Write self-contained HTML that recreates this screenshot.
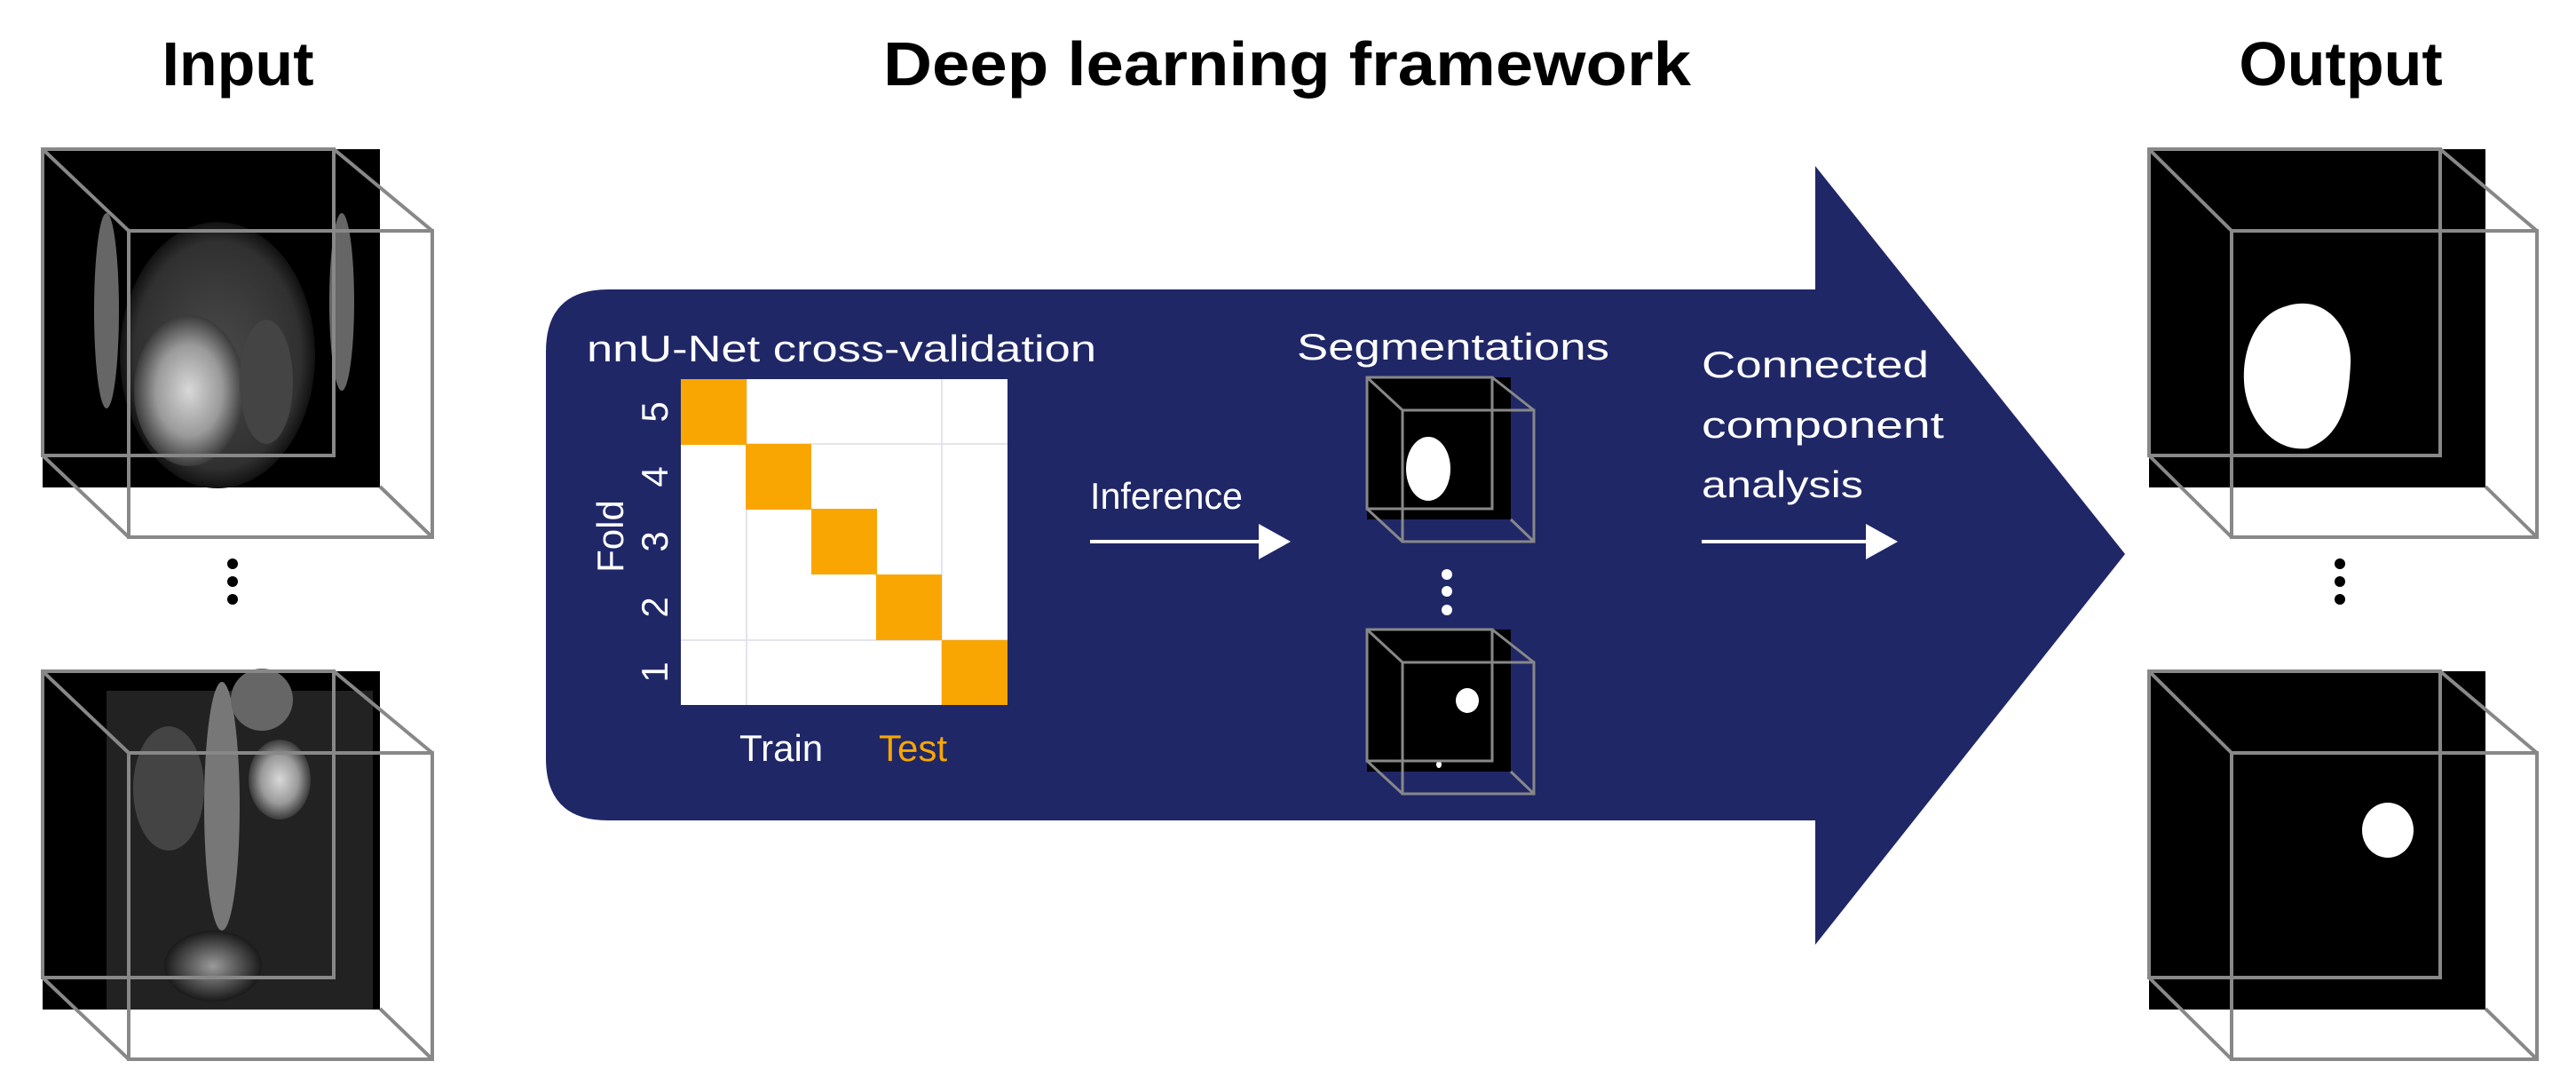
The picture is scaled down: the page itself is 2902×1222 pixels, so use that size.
<!DOCTYPE html>
<html><head><meta charset="utf-8"><style>html,body{margin:0;padding:0;background:#fff}svg{display:block}</style></head>
<body>
<svg width="2902" height="1222" viewBox="0 0 2902 1222" xmlns="http://www.w3.org/2000/svg" font-family="Liberation Sans, sans-serif">
<defs>
<radialGradient id="g1" cx="50%" cy="50%" r="50%"><stop offset="0" stop-color="#d8d8d8"/><stop offset="0.6" stop-color="#9a9a9a"/><stop offset="1" stop-color="#3a3a3a"/></radialGradient>
<radialGradient id="g2" cx="50%" cy="50%" r="50%"><stop offset="0" stop-color="#9a9a9a"/><stop offset="1" stop-color="#1a1a1a"/></radialGradient>
<radialGradient id="g3" cx="50%" cy="50%" r="50%"><stop offset="0" stop-color="#4a4a4a"/><stop offset="0.85" stop-color="#303030"/><stop offset="1" stop-color="#111"/></radialGradient>
</defs>
<text x="268" y="96" font-size="70" font-weight="bold" text-anchor="middle">Input</text>
<text x="1450" y="96" font-size="70" font-weight="bold" text-anchor="middle" textLength="910" lengthAdjust="spacingAndGlyphs">Deep learning framework</text>
<text x="2637" y="96" font-size="70" font-weight="bold" text-anchor="middle">Output</text>

<path d="M685,326 H2045 V187 L2394,624 L2045,1064 V924 H685 Q615,924 615,854 V396 Q615,326 685,326 Z" fill="#1f2767"/>

<g>
<rect x="48" y="168" width="380" height="381" fill="#000"/>
<ellipse cx="245" cy="400" rx="110" ry="150" fill="url(#g3)"/>
<ellipse cx="213" cy="440" rx="62" ry="85" fill="url(#g1)"/>
<ellipse cx="300" cy="430" rx="30" ry="70" fill="#444"/>
<ellipse cx="120" cy="350" rx="14" ry="110" fill="#666"/>
<ellipse cx="385" cy="340" rx="14" ry="100" fill="#666"/>
<g fill="none" stroke="#888" stroke-width="4">
<rect x="48" y="168" width="328" height="345"/>
<rect x="145" y="260" width="342" height="345"/>
<line x1="48" y1="168" x2="145" y2="260"/><line x1="376" y1="168" x2="487" y2="260"/>
<line x1="48" y1="513" x2="145" y2="605"/><line x1="428" y1="548" x2="487" y2="605"/>
</g>
</g>
<g fill="#000"><circle cx="262" cy="635" r="6"/><circle cx="262" cy="655" r="6"/><circle cx="262" cy="675" r="6"/></g>
<g transform="translate(0,588)">
<rect x="48" y="168" width="380" height="381" fill="#000"/>
<rect x="120" y="190" width="300" height="359" fill="#222"/>
<ellipse cx="250" cy="320" rx="20" ry="140" fill="#777"/>
<ellipse cx="315" cy="290" rx="35" ry="45" fill="url(#g1)"/>
<ellipse cx="295" cy="200" rx="35" ry="35" fill="#666"/>
<ellipse cx="190" cy="300" rx="40" ry="70" fill="#444"/>
<ellipse cx="240" cy="500" rx="55" ry="40" fill="url(#g2)"/>
<g fill="none" stroke="#888" stroke-width="4">
<rect x="48" y="168" width="328" height="345"/>
<rect x="145" y="260" width="342" height="345"/>
<line x1="48" y1="168" x2="145" y2="260"/><line x1="376" y1="168" x2="487" y2="260"/>
<line x1="48" y1="513" x2="145" y2="605"/><line x1="428" y1="548" x2="487" y2="605"/>
</g>
</g>

<text x="661" y="407" font-size="42" fill="#fff" textLength="574" lengthAdjust="spacingAndGlyphs">nnU-Net cross-validation</text>
<rect x="767" y="427" width="368" height="367" fill="#fff"/>
<g stroke="#e4e4ee" stroke-width="2">
<line x1="841" y1="427" x2="841" y2="794"/><line x1="1061" y1="427" x2="1061" y2="794"/>
<line x1="767" y1="500" x2="1135" y2="500"/><line x1="767" y1="721" x2="1135" y2="721"/>
</g>
<g fill="#f9a602">
<rect x="767" y="427" width="74" height="74"/>
<rect x="840" y="500" width="74" height="74"/>
<rect x="914" y="573" width="74" height="74"/>
<rect x="987" y="647" width="74" height="74"/>
<rect x="1061" y="721" width="74" height="73"/>
</g>
<g fill="#fff" font-size="42" text-anchor="middle">
<text transform="translate(752,464) rotate(-90)">5</text>
<text transform="translate(752,537) rotate(-90)">4</text>
<text transform="translate(752,610) rotate(-90)">3</text>
<text transform="translate(752,684) rotate(-90)">2</text>
<text transform="translate(752,757) rotate(-90)">1</text>
<text transform="translate(702,604) rotate(-90)">Fold</text>
</g>
<text x="833" y="857" font-size="42" fill="#fff">Train</text>
<text x="990" y="857" font-size="42" fill="#f9a602">Test</text>

<text x="1228" y="573" font-size="42" fill="#fff" textLength="172" lengthAdjust="spacingAndGlyphs">Inference</text>
<line x1="1228" y1="610" x2="1425" y2="610" stroke="#fff" stroke-width="4"/>
<polygon points="1418,590 1454,610 1418,630" fill="#fff"/>

<text x="1461" y="405" font-size="42" fill="#fff" textLength="352" lengthAdjust="spacingAndGlyphs">Segmentations</text>
<g>
<rect x="1540" y="425" width="162" height="160" fill="#000"/>
<ellipse cx="1609" cy="528" rx="25" ry="36" fill="#fff"/>
<g fill="none" stroke="#888" stroke-width="3">
<rect x="1540" y="425" width="141" height="148"/>
<rect x="1580" y="462" width="148" height="148"/>
<line x1="1540" y1="425" x2="1580" y2="462"/><line x1="1681" y1="425" x2="1728" y2="462"/>
<line x1="1540" y1="573" x2="1580" y2="610"/><line x1="1702" y1="585" x2="1728" y2="610"/>
</g>
</g>
<g fill="#fff"><circle cx="1630" cy="647" r="6"/><circle cx="1630" cy="666" r="6"/><circle cx="1630" cy="687" r="6"/></g>
<g transform="translate(0,284)">
<rect x="1540" y="425" width="162" height="160" fill="#000"/>
<ellipse cx="1653" cy="505" rx="13" ry="14" fill="#fff"/>
<ellipse cx="1621" cy="577" rx="3" ry="4" fill="#fff"/>
<g fill="none" stroke="#888" stroke-width="3">
<rect x="1540" y="425" width="141" height="148"/>
<rect x="1580" y="462" width="148" height="148"/>
<line x1="1540" y1="425" x2="1580" y2="462"/><line x1="1681" y1="425" x2="1728" y2="462"/>
<line x1="1540" y1="573" x2="1580" y2="610"/><line x1="1702" y1="585" x2="1728" y2="610"/>
</g>
</g>

<g fill="#fff" font-size="42">
<text x="1917" y="425" textLength="256" lengthAdjust="spacingAndGlyphs">Connected</text>
<text x="1917" y="493" textLength="273" lengthAdjust="spacingAndGlyphs">component</text>
<text x="1917" y="560" textLength="182" lengthAdjust="spacingAndGlyphs">analysis</text>
</g>
<line x1="1917" y1="610" x2="2110" y2="610" stroke="#fff" stroke-width="4"/>
<polygon points="2102,590 2138,610 2102,630" fill="#fff"/>

<g>
<rect x="2421" y="168" width="379" height="381" fill="#000"/>
<path d="M2575,345 C2620,330 2650,370 2648,410 C2646,450 2640,490 2600,505 C2560,510 2530,470 2528,430 C2526,395 2540,355 2575,345 Z" fill="#fff"/>
<g fill="none" stroke="#888" stroke-width="4">
<rect x="2421" y="168" width="328" height="345"/>
<rect x="2514" y="260" width="344" height="345"/>
<line x1="2421" y1="168" x2="2514" y2="260"/><line x1="2749" y1="168" x2="2858" y2="260"/>
<line x1="2421" y1="513" x2="2514" y2="605"/><line x1="2800" y1="548" x2="2858" y2="605"/>
</g>
</g>
<g fill="#000"><circle cx="2636" cy="635" r="6"/><circle cx="2636" cy="655" r="6"/><circle cx="2636" cy="675" r="6"/></g>
<g transform="translate(0,588)">
<rect x="2421" y="168" width="379" height="381" fill="#000"/>
<ellipse cx="2690" cy="347" rx="29" ry="31" fill="#fff"/>
<g fill="none" stroke="#888" stroke-width="4">
<rect x="2421" y="168" width="328" height="345"/>
<rect x="2514" y="260" width="344" height="345"/>
<line x1="2421" y1="168" x2="2514" y2="260"/><line x1="2749" y1="168" x2="2858" y2="260"/>
<line x1="2421" y1="513" x2="2514" y2="605"/><line x1="2800" y1="548" x2="2858" y2="605"/>
</g>
</g>
</svg>
</body></html>
